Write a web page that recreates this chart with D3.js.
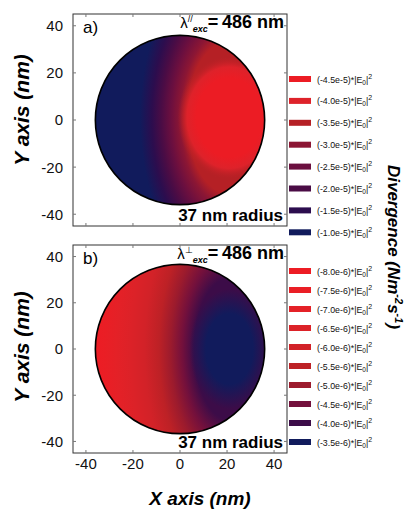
<!DOCTYPE html>
<html>
<head>
<meta charset="utf-8">
<script src="https://cdn.jsdelivr.net/npm/d3@7"></script>
<style>
  body { margin: 0; background: #fff; }
  svg { display: block; font-family: "Liberation Sans", Arial, sans-serif; }
</style>
</head>
<body>
<svg id="chart" width="410" height="510"></svg>
<script>
// Axis ticks (nm)
const xTicks = [-40, -20, 0, 20, 40];
const yTicks = [-40, -20, 0, 20, 40];
const particleRadius = 36;

// Legend levels and swatch colours
const legendA = [-4.5e-5, -4.0e-5, -3.5e-5, -3.0e-5, -2.5e-5, -2.0e-5, -1.5e-5, -1.0e-5];
const colorsA = ["#ec1c24", "#de222a", "#b52025", "#8c1634", "#6b0f3f", "#4a0c45", "#2c0d4e", "#111b5c"];
const legendB = [-8.0e-6, -7.5e-6, -7.0e-6, -6.5e-6, -6.0e-6, -5.5e-6, -5.0e-6, -4.5e-6, -4.0e-6, -3.5e-6];
const colorsB = ["#ed1c24", "#ea1e25", "#e42127", "#dc2228", "#d22228", "#bd2126", "#9c1b2d", "#73103c", "#3c0c48", "#111b5c"];

// Divergence field (nm from the hot/cold spot -> value)
const centerA = [21, 1];
const outerDistA = [0, 18, 21, 25, 29, 33, 38];
const outerValA = [-3.5e-5, -3.5e-5, -3.0e-5, -2.5e-5, -2.0e-5, -1.5e-5, -1.0e-5];
const coreDistA = [0, 14, 18, 22];
const coreValA = [-4.5e-5, -4.5e-5, -4.0e-5, -3.5e-5];

const centerB = [21, 0];
const outerDistB = [0, 15, 20, 25, 30, 36, 42, 48, 53, 58];
const outerValB = [-4.0e-6, -4.0e-6, -4.5e-6, -5.0e-6, -5.5e-6, -6.0e-6, -6.5e-6, -7.0e-6, -7.5e-6, -8.0e-6];
const coreDistB = [0, 10, 17];
const coreValB = [-3.5e-6, -3.5e-6, -3.5e-6];

const svg = d3.select("#chart");
const defs = svg.append("defs");

const left = 73, right = 287;
const x = d3.scaleLinear().domain([-45.5, 45.5]).range([left, right]);

const panels = [
  { id: "a", top: 14, bottom: 226, label: "a)", sup: "//", legend: legendA, colors: colorsA,
    legendTop: 79, legendStep: 21.9, center: centerA,
    layers: [
      { dist: outerDistA, val: outerValA, aspect: 1.8, fade: false },
      { dist: coreDistA, val: coreValA, aspect: 1.2, fade: true }
    ], titleY: 110 },
  { id: "b", top: 245, bottom: 453, label: "b)", sup: "\u22a5", legend: legendB, colors: colorsB,
    legendTop: 271, legendStep: 19, center: centerB,
    layers: [
      { dist: outerDistB, val: outerValB, aspect: 2.0, fade: false },
      { dist: coreDistB, val: coreValB, aspect: 1.5, fade: true }
    ], titleY: 347 }
];

panels.forEach((p, pi) => {
  const y = d3.scaleLinear().domain([-45, 45]).range([p.bottom, p.top]);
  const color = d3.scaleLinear().domain(p.legend).range(p.colors).clamp(true);
  const g = svg.append("g");

  // Frame
  g.append("rect")
    .attr("x", left).attr("y", p.top)
    .attr("width", right - left).attr("height", p.bottom - p.top)
    .attr("fill", "none").attr("stroke", "#333").attr("stroke-width", 1);

  // Inward ticks on all sides
  const tk = 3;
  g.selectAll(".xt").data(xTicks).enter().append("path")
    .attr("d", d => `M${x(d)},${p.top}v${tk}M${x(d)},${p.bottom}v${-tk}`)
    .attr("stroke", "#777").attr("stroke-width", 1);
  g.selectAll(".yt").data(yTicks).enter().append("path")
    .attr("d", d => `M${left},${y(d)}h${tk}M${right},${y(d)}h${-tk}`)
    .attr("stroke", "#777").attr("stroke-width", 1);

  // Field layers: elliptical gradients around the hot/cold spot
  const cx = x(p.center[0]), cy = y(p.center[1]);
  p.layers.forEach((L, li) => {
    const maxD = d3.max(L.dist);
    const gid = `grad-${p.id}-${li}`;
    const grad = defs.append("radialGradient")
      .attr("id", gid)
      .attr("gradientUnits", "userSpaceOnUse")
      .attr("cx", cx).attr("cy", cy).attr("fx", cx).attr("fy", cy)
      .attr("r", x(p.center[0] + maxD) - cx)
      .attr("gradientTransform", `translate(${cx},${cy}) scale(1,${L.aspect}) translate(${-cx},${-cy})`);
    grad.selectAll("stop")
      .data(L.dist)
      .enter()
      .append("stop")
      .attr("offset", d => d / maxD)
      .attr("stop-color", (d, i) => color(L.val[i]))
      .attr("stop-opacity", (d, i) => (L.fade && i === L.dist.length - 1) ? 0 : 1);

    g.append("circle")
      .attr("cx", x(0)).attr("cy", y(0))
      .attr("r", x(particleRadius) - x(0))
      .attr("fill", `url(#${gid})`);
  });

  // Particle outline
  g.append("circle")
    .attr("cx", x(0)).attr("cy", y(0))
    .attr("r", x(particleRadius) - x(0))
    .attr("fill", "none")
    .attr("stroke", "#000").attr("stroke-width", 1.6);

  // Y tick labels
  g.selectAll(".yl").data(yTicks).enter().append("text")
    .attr("x", 63).attr("y", d => y(d)).attr("dy", "0.36em")
    .attr("text-anchor", "end").attr("font-size", 15).attr("fill", "#111")
    .text(d => d);

  // X tick labels on the lower panel only
  if (pi === 1) {
    g.selectAll(".xl").data(xTicks).enter().append("text")
      .attr("x", d => x(d)).attr("y", p.bottom + 16)
      .attr("text-anchor", "middle").attr("font-size", 15).attr("fill", "#111")
      .text(d => d);
    svg.append("text")
      .attr("x", 200).attr("y", 505)
      .attr("text-anchor", "middle")
      .attr("font-size", 19).attr("font-weight", "bold").attr("font-style", "italic")
      .text("X axis (nm)");
  }

  // Y title
  g.append("text")
    .attr("transform", `translate(29,${p.titleY}) rotate(-90)`)
    .attr("text-anchor", "middle")
    .attr("font-size", 21).attr("font-weight", "bold").attr("font-style", "italic")
    .text("Y axis (nm)");

  // Panel label
  g.append("text")
    .attr("x", 83).attr("y", p.top + 19)
    .attr("font-size", 17)
    .text(p.label);

  // Wavelength label
  const wl = g.append("text")
    .attr("x", right - 3).attr("y", p.top + 14)
    .attr("text-anchor", "end");
  wl.append("tspan").attr("font-size", 15).text("\u03bb");
  wl.append("tspan").attr("font-size", 9).attr("dy", -6).text(p.sup);
  wl.append("tspan").attr("font-size", 9).attr("font-style", "italic").attr("font-weight", "bold")
    .attr("dy", 10).text("exc");
  wl.append("tspan").attr("font-size", 18).attr("font-weight", "bold").attr("dy", -4).text("=\u2009486 nm");

  // Radius label
  g.append("text")
    .attr("x", right - 4).attr("y", p.bottom - 5)
    .attr("text-anchor", "end")
    .attr("font-size", 17).attr("font-weight", "bold")
    .text("37 nm radius");

  // Legend
  const items = g.selectAll(".leg").data(p.legend).enter().append("g")
    .attr("transform", (d, i) => `translate(289,${p.legendTop + i * p.legendStep})`);
  items.append("rect")
    .attr("x", 0).attr("y", -3).attr("width", 22).attr("height", 6)
    .attr("fill", (d, i) => p.colors[i]);
  const lt = items.append("text")
    .attr("x", 28).attr("y", 3.5)
    .attr("font-size", 8.8).attr("fill", "#111");
  lt.append("tspan").text(d => "(" + d.toExponential(1) + ")*|E");
  lt.append("tspan").attr("font-size", 6.5).attr("dy", 2).text("0");
  lt.append("tspan").attr("dy", -2).text("|");
  lt.append("tspan").attr("font-size", 7).attr("dy", -4).text("2");
});

// Shared colour-bar title
const dt = svg.append("text")
  .attr("transform", "translate(388,247) rotate(90)")
  .attr("text-anchor", "middle")
  .attr("font-size", 17).attr("font-weight", "bold").attr("font-style", "italic");
dt.append("tspan").text("Divergence (Nm");
dt.append("tspan").attr("font-size", 11).attr("dy", -7).text("-2");
dt.append("tspan").attr("dy", 7).text("s");
dt.append("tspan").attr("font-size", 11).attr("dy", -7).text("-1");
dt.append("tspan").attr("dy", 7).text(")");
</script>
</body>
</html>
